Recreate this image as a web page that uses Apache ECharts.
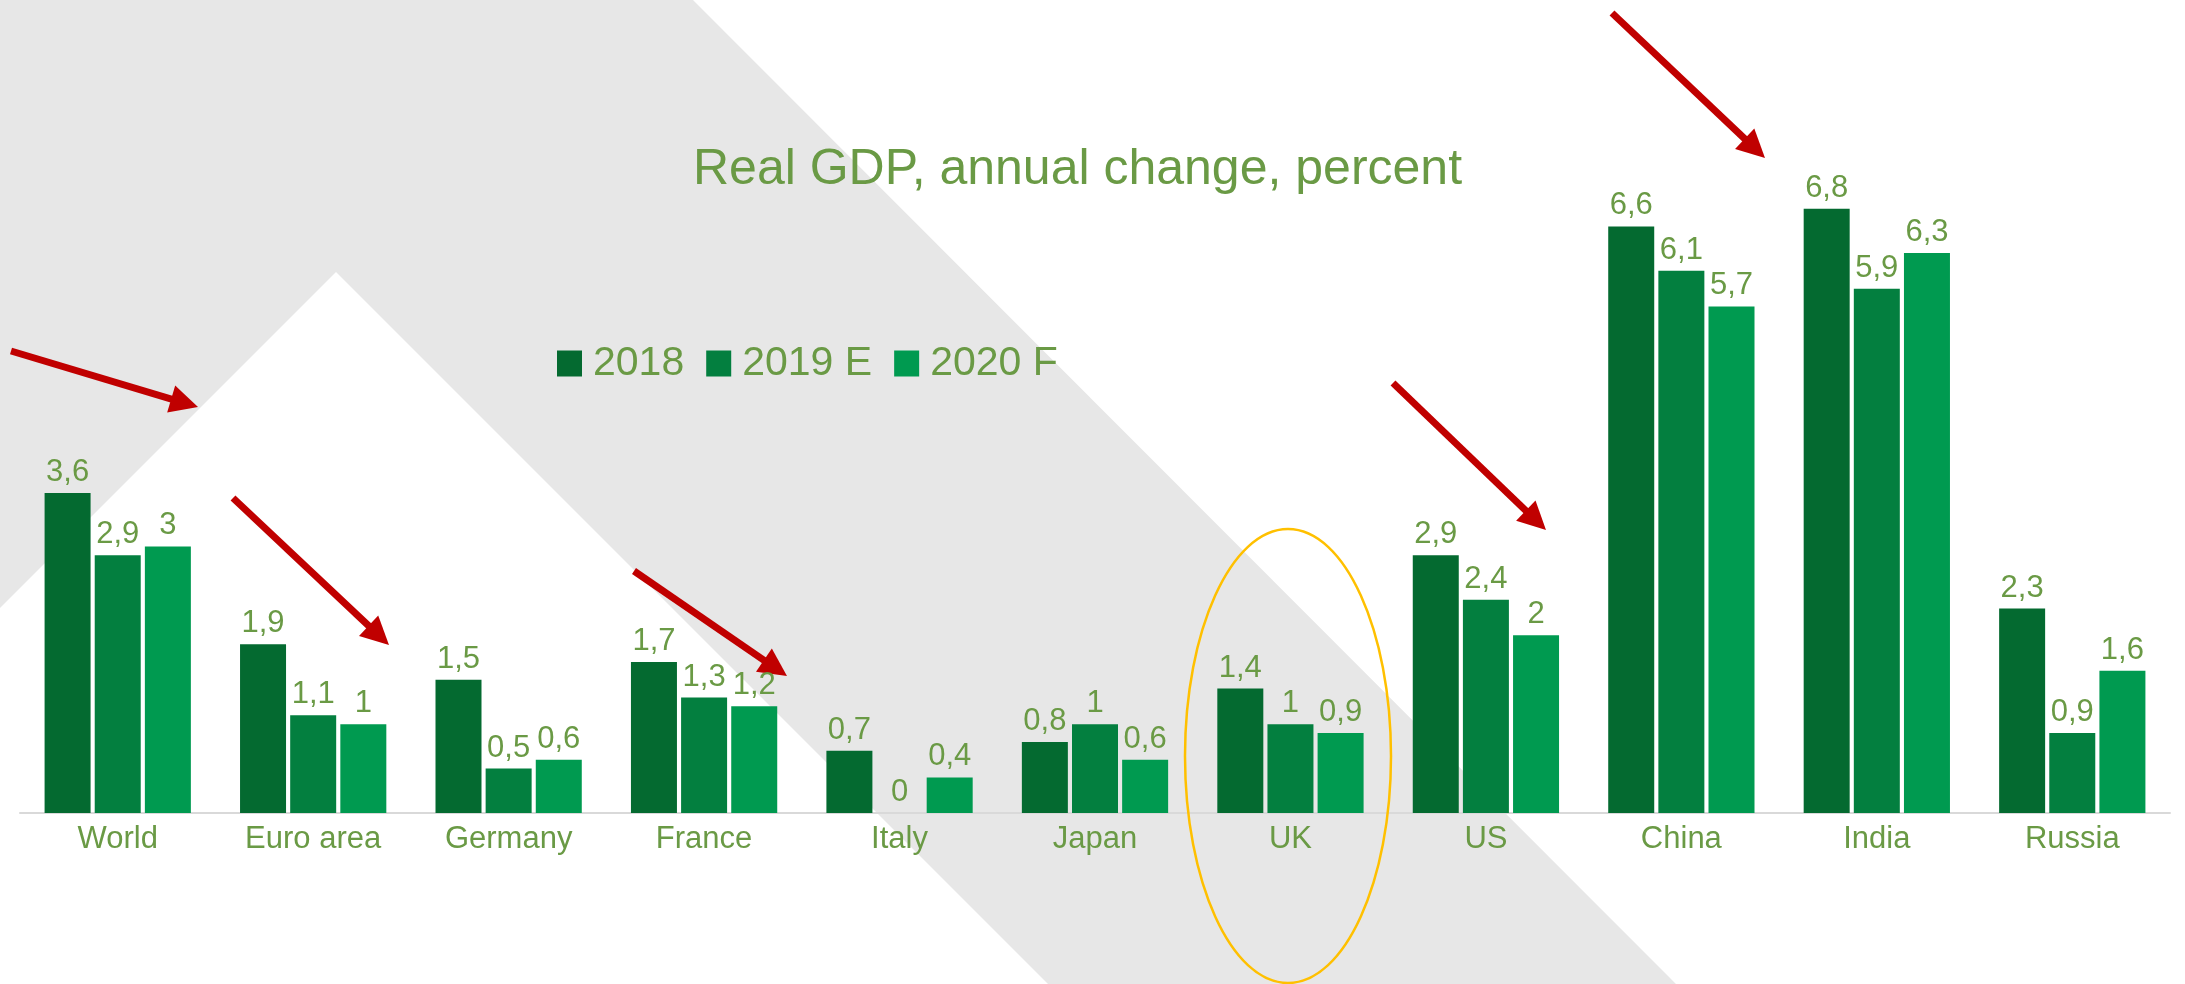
<!DOCTYPE html>
<html>
<head>
<meta charset="utf-8">
<title>Real GDP, annual change, percent</title>
<script src="https://cdn.jsdelivr.net/npm/echarts@6/dist/echarts.min.js"></script>
<style>
  html, body { margin: 0; padding: 0; background: #fff; }
  #main { width: 2185px; height: 984px; }
</style>
</head>
<body>
<div id="main"></div>
<script>
const countries = ['World', 'Euro area', 'Germany', 'France', 'Italy', 'Japan', 'UK', 'US', 'China', 'India', 'Russia'];
const gdp2018 = [3.6, 1.9, 1.5, 1.7, 0.7, 0.8, 1.4, 2.9, 6.6, 6.8, 2.3];
const gdp2019 = [2.9, 1.1, 0.5, 1.3, 0, 1, 1, 2.4, 6.1, 5.9, 0.9];
const gdp2020 = [3, 1, 0.6, 1.2, 0.4, 0.6, 0.9, 2, 5.7, 6.3, 1.6];

const green = '#6A9A45';
const font = 'Liberation Sans, Arial, sans-serif';

// red annotation arrow: shaft + triangular head
const arrow = (x1, y1, x2, y2) => {
  const len = Math.hypot(x2 - x1, y2 - y1);
  const ux = (x2 - x1) / len, uy = (y2 - y1) / len;
  const headLen = 28, headHalf = 14;
  const bx = x2 - ux * headLen, by = y2 - uy * headLen;
  return {
    type: 'group',
    z: 100,
    children: [
      {
        type: 'line',
        shape: {x1: x1, y1: y1, x2: bx + ux * 2, y2: by + uy * 2},
        style: {stroke: '#C00000', lineWidth: 7}
      },
      {
        type: 'polygon',
        shape: {points: [[x2, y2], [bx - uy * headHalf, by + ux * headHalf], [bx + uy * headHalf, by - ux * headHalf]]},
        style: {fill: '#C00000'}
      }
    ]
  };
};

const labelFmt = (p) => String(p.value).replace('.', ',');

const makeSeries = (name, data, color) => ({
  name: name,
  type: 'bar',
  data: data,
  barWidth: 46,
  barGap: '9%',
  itemStyle: {color: color},
  label: {
    show: true,
    position: 'top',
    distance: 5,
    formatter: labelFmt,
    color: green,
    fontSize: 31,
    fontFamily: font
  }
});

const chartDom = document.getElementById('main');
const myChart = echarts.init(chartDom);
let option;

option = {
  animation: false,
  title: {
    text: 'Real GDP, annual change, percent',
    left: 688,
    top: 140,
    textStyle: {color: green, fontSize: 50, fontWeight: 'normal', fontFamily: font}
  },
  legend: {
    left: 552,
    top: 338,
    itemWidth: 25,
    itemHeight: 26,
    itemGap: 22,
    icon: 'rect',
    textStyle: {color: green, fontSize: 41, fontFamily: font, padding: [0, 0, 0, 6]}
  },
  grid: {
    left: 20,
    right: 15,
    top: 102,
    bottom: 171
  },
  xAxis: {
    type: 'category',
    data: countries,
    axisTick: {show: false},
    axisLine: {lineStyle: {color: '#D9D9D9', width: 2}},
    axisLabel: {color: green, fontSize: 31, fontFamily: font, margin: 11}
  },
  yAxis: {
    type: 'value',
    min: 0,
    max: 8,
    show: false,
    splitLine: {show: false}
  },
  graphic: [
    {
      type: 'polygon',
      z: -10,
      silent: true,
      shape: {points: [[0, 0], [693, 0], [1676, 984], [1048, 984], [336, 272], [0, 608]]},
      style: {fill: '#E7E7E7'}
    },
    {
      type: 'ellipse',
      z: 90,
      silent: true,
      shape: {cx: 1288, cy: 756, rx: 103, ry: 227},
      style: {fill: 'none', stroke: '#FFC000', lineWidth: 2.5}
    },
    arrow(11, 351, 198, 407),
    arrow(233, 498, 389, 645),
    arrow(634, 571, 787, 676),
    arrow(1393, 383, 1546, 530),
    arrow(1612, 13, 1765, 158)
  ],
  series: [
    makeSeries('2018', gdp2018, '#046A30'),
    makeSeries('2019 E', gdp2019, '#037F3F'),
    makeSeries('2020 F', gdp2020, '#009A50')
  ]
};

option && myChart.setOption(option);
</script>
</body>
</html>
